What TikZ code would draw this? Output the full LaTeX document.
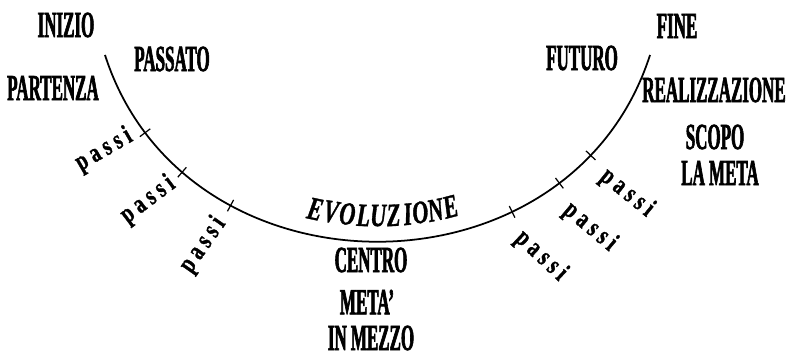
\documentclass[tikz,border=0pt]{standalone}
\usepackage{fontspec}
\setmainfont{Liberation Serif}
\newfontfamily\narrowserif[FakeStretch=0.46, FakeBold=1.6]{Liberation Serif}
\newfontfamily\passiserif[FakeStretch=0.72, FakeBold=1.2, LetterSpace=18]{Liberation Serif}
\newfontfamily\evoserif[FakeStretch=0.68, FakeBold=1]{Liberation Serif}
\usetikzlibrary{positioning}

\begin{document}
\begin{tikzpicture}[
    word/.style = {inner sep=0pt, font=\narrowserif\bfseries\fontsize{21}{23}\selectfont},
    passi_lbl/.style = {inner sep=0pt, font=\passiserif\bfseries\fontsize{15.5}{17}\selectfont},
    evo_letter/.style = {inner sep=0pt, sloped, font=\evoserif\bfseries\itshape\fontsize{18.5}{20}\selectfont},
    tickmark/.style = {draw, sloped, inner sep=0pt, minimum width=0pt, minimum height=0.26cm, line width=0.7pt},
    arc_line/.style = {line width=1pt}
]
\useasboundingbox (0,0) rectangle (15.74,7.02);

% --- Estremi del percorso ---
\coordinate (inizio) at (2.10, 5.92);
\coordinate (fine) at (13.00, 5.92);

% --- Arco con i passi ---
\draw[arc_line] (inizio) .. controls (3.70, 0.94) and (11.40, 0.94) .. (fine)
    node[tickmark, pos=0.118] (tk1) {}
    node[tickmark, pos=0.195] (tk2) {}
    node[tickmark, pos=0.28] (tk3) {}
    node[tickmark, pos=0.70] (tk4) {}
    node[tickmark, pos=0.78] (tk5) {}
    node[tickmark, pos=0.84] (tk6) {};

% EVOLUZIONE lungo l'arco
\foreach \l/\tpos [count=\i] in {E/0.402, V/0.427, O/0.453, L/0.478, U/0.501,
                                 Z/0.525, I/0.547, O/0.567, N/0.591, E/0.615}
    \path (inizio) .. controls (3.70, 0.94) and (11.40, 0.94) .. (fine)
        node[evo_letter, above=0.30cm, pos=\tpos] (evo\i) {\l};

% --- Lato sinistro ---
\node[word] (inizio_lbl) at (1.32, 6.52) {INIZIO};
\node[word] (passato) at (3.44, 5.84) {PASSATO};
\node[word] (partenza) at (1.06, 5.26) {PARTENZA};

\node[passi_lbl, rotate=30] (ps1) at (2.08, 4.02) {passi};
\node[passi_lbl, rotate=37] (ps2) at (2.96, 3.02) {passi};
\node[passi_lbl, rotate=55] (ps3) at (4.06, 2.12) {passi};

% --- Centro ---
\node[word] (centro) at (7.42, 1.82) {CENTRO};
\node[word] (meta_c) at (7.34, 0.98) {META’};
\node[word] (mezzo) at (7.42, 0.26) {IN MEZZO};

% --- Lato destro ---
\node[word] (fine_lbl) at (13.54, 6.50) {FINE};
\node[word] (futuro) at (11.64, 5.86) {FUTURO};
\node[word] (realizz) at (14.28, 5.22) {REALIZZAZIONE};
\node[word] (scopo) at (14.30, 4.28) {SCOPO};
\node[word] (la_meta) at (14.40, 3.56) {LA META};

\node[passi_lbl, rotate=-43] (ps4) at (10.82, 1.90) {passi};
\node[passi_lbl, rotate=-40] (ps5) at (11.80, 2.48) {passi};
\node[passi_lbl, rotate=-39] (ps6) at (12.54, 3.16) {passi};

\end{tikzpicture}
\end{document}
